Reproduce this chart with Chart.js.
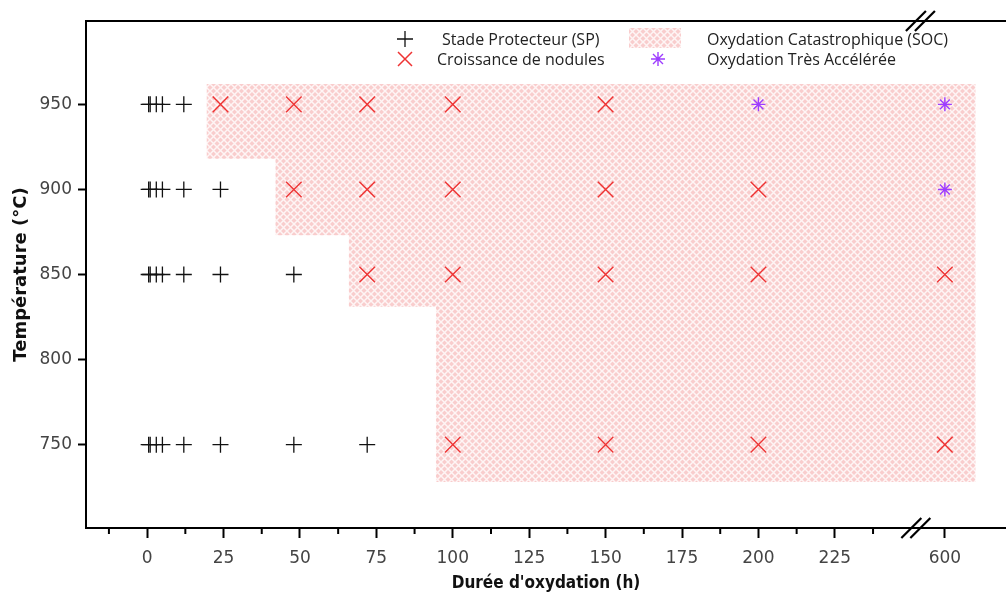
<!DOCTYPE html>
<html lang="fr">
<head>
<meta charset="utf-8">
<script src="https://cdn.jsdelivr.net/npm/chart.js@4.4.1/dist/chart.umd.min.js"></script>
<style>
  html, body { margin: 0; padding: 0; background: #fff; }
  #cadre { position: relative; width: 1006px; height: 594px; }
  #graphe { position: absolute; left: 0; top: 0; }
  .leg { position: absolute; font-family: 'Open Sans', sans-serif; font-size: 16px; color: #222; line-height: 20px; white-space: nowrap; }
  .leg svg { position: absolute; }
  #boiteSOC { position: absolute; width: 52px; height: 20px; }
</style>
</head>
<body>
<div id="cadre">
  <canvas id="graphe" width="1006" height="594"></canvas>
  <svg class="leg" style="left:396px;top:30px" width="18" height="18"><path d="M9 1V17M1 9H17" stroke="#111" stroke-width="1.3"/></svg>
  <div class="leg" style="left:442px;top:29px">Stade Protecteur (SP)</div>
  <svg class="leg" style="left:396px;top:50px" width="18" height="18"><path d="M2 2L16 16M16 2L2 16" stroke="#ee3333" stroke-width="1.5"/></svg>
  <div class="leg" style="left:437px;top:49px">Croissance de nodules</div>
  <div id="boiteSOC" style="left:629px;top:28px"></div>
  <div class="leg" style="left:707px;top:29px">Oxydation Catastrophique (SOC)</div>
  <svg class="leg" style="left:650px;top:51px" width="16" height="16"><path d="M8 1V15M1 8H15M3 3L13 13M13 3L3 13" stroke="#9d3cff" stroke-width="1.4"/></svg>
  <div class="leg" style="left:707px;top:49px">Oxydation Très Accélérée</div>
</div>
<script>
// Durées (h) par température
const sp950 = [0.5, 1, 3, 5, 12];
const sp900 = [0.5, 1, 3, 5, 12, 24];
const sp850 = [0.5, 1, 3, 5, 12, 24, 48];
const sp750 = [0.5, 1, 3, 5, 12, 24, 48, 72];
const nod950 = [24, 48, 72, 100, 150];
const nod900 = [48, 72, 100, 150, 200];
const nod850 = [72, 100, 150, 200, 600];
const nod750 = [100, 150, 200, 600];
const ota950 = [200, 600];
const ota900 = [600];

// Zones SOC : début (h), bornes en température
const socDebut = [19.5, 42, 66, 94.5];
const socHaut = [962, 918, 873, 831];
const socBas = [918, 873, 831, 728];
const socFin = 610;

const ticksX = [0, 25, 50, 75, 100, 125, 150, 175, 200, 225, 600];
const ticksY = [750, 800, 850, 900, 950];

// axe coupé entre 250 et 600 h
function xAff(v) { return v >= 600 ? 261 + (v - 600) : v; }

function points(durees, temp) {
    return durees.map(d => ({ x: xAff(d), y: temp }));
}

const ctx = document.getElementById('graphe').getContext('2d');

// motif hachuré rose
const tuile = document.createElement('canvas');
tuile.width = 7; tuile.height = 7;
const tg = tuile.getContext('2d');
tg.fillStyle = '#f9cdcd';
tg.fillRect(0, 0, 7, 7);
tg.strokeStyle = 'rgba(255,255,255,0.8)';
tg.lineWidth = 1.5;
tg.beginPath();
tg.moveTo(0, 0); tg.lineTo(7, 7);
tg.moveTo(7, 0); tg.lineTo(0, 7);
tg.stroke();
const motif = ctx.createPattern(tuile, 'repeat');
document.getElementById('boiteSOC').style.background = 'url(' + tuile.toDataURL() + ')';

const zones = socDebut.map((x0, i) => ({
    type: 'line',
    data: [
        { x: x0, y: socHaut[i] }, { x: xAff(socFin), y: socHaut[i] },
        { x: xAff(socFin), y: socBas[i] }, { x: x0, y: socBas[i] }, { x: x0, y: socHaut[i] }
    ],
    fill: 'shape',
    backgroundColor: motif,
    borderWidth: 0,
    pointRadius: 0,
    tension: 0,
    order: 10
}));

const styleSP = { pointStyle: 'cross', pointRadius: 8, borderColor: '#111', borderWidth: 1.3, order: 1 };
const styleNod = { pointStyle: 'crossRot', pointRadius: 11, borderColor: '#ee3333', borderWidth: 1.4, order: 1 };
const styleOta = { pointStyle: 'star', pointRadius: 7, borderColor: '#9d3cff', borderWidth: 1.4, order: 1 };

const decor = {
    id: 'decor',
    afterDraw(chart) {
        const c = chart.ctx, a = chart.chartArea, sx = chart.scales.x;
        c.save();
        c.strokeStyle = '#000';
        c.lineWidth = 2;
        // bord haut
        c.beginPath(); c.moveTo(a.left, a.top); c.lineTo(a.right, a.top); c.stroke();
        // petites graduations
        for (let v = -12.5; v < 250; v += 25) {
            const px = sx.getPixelForValue(v);
            c.beginPath(); c.moveTo(px, a.bottom); c.lineTo(px, a.bottom + 6); c.stroke();
        }
        // marques de coupure
        c.lineWidth = 2.2;
        [[a.top, 253], [a.bottom, 251.5]].forEach(([y, v]) => {
            const xb = sx.getPixelForValue(v);
            [-4.5, 4.5].forEach(dx => {
                c.beginPath();
                c.moveTo(xb + dx - 10, y + 10);
                c.lineTo(xb + dx + 10, y - 10);
                c.stroke();
            });
        });
        c.restore();
    }
};

new Chart(ctx, {
    type: 'scatter',
    data: {
        datasets: [
            ...zones,
            { data: points(sp950, 950), ...styleSP },
            { data: points(sp900, 900), ...styleSP },
            { data: points(sp850, 850), ...styleSP },
            { data: points(sp750, 750), ...styleSP },
            { data: points(nod950, 950), ...styleNod },
            { data: points(nod900, 900), ...styleNod },
            { data: points(nod850, 850), ...styleNod },
            { data: points(nod750, 750), ...styleNod },
            { data: points(ota950, 950), ...styleOta },
            { data: points(ota900, 900), ...styleOta }
        ]
    },
    options: {
        responsive: false,
        animation: false,
        events: [],
        layout: { autoPadding: false, padding: { top: 21, right: 0, left: 0, bottom: 0 } },
        plugins: { legend: { display: false }, tooltip: { enabled: false } },
        scales: {
            x: {
                type: 'linear',
                min: -20,
                max: 281,
                afterBuildTicks: s => { s.ticks = ticksX.map(v => ({ value: xAff(v) })); },
                afterFit: s => { s.height = 66; s.paddingLeft = 0; s.paddingRight = 0; },
                ticks: {
                    callback: v => (v === xAff(600) ? '600' : String(v)),
                    font: { family: 'DejaVu Sans', size: 17 },
                    color: '#444',
                    padding: 10,
                    maxRotation: 0,
                    autoSkip: false
                },
                grid: { drawOnChartArea: false, tickLength: 10, tickWidth: 2, tickColor: '#000' },
                border: { color: '#000', width: 2 },
                title: {
                    display: true,
                    text: "Durée d'oxydation (h)",
                    font: { family: "'DejaVu Sans Condensed', 'Liberation Sans Narrow', sans-serif", size: 17, weight: 'bold' },
                    color: '#111',
                    padding: { top: 0, bottom: 0 }
                }
            },
            y: {
                min: 701,
                max: 999,
                afterBuildTicks: s => { s.ticks = ticksY.map(v => ({ value: v })); },
                afterFit: s => { s.width = 86; s.paddingTop = 0; s.paddingBottom = 0; },
                ticks: {
                    font: { family: 'DejaVu Sans', size: 17 },
                    color: '#444',
                    padding: 6
                },
                grid: { drawOnChartArea: false, tickLength: 8, tickWidth: 2, tickColor: '#000' },
                border: { color: '#000', width: 2 },
                title: {
                    display: true,
                    text: 'Température (°C)',
                    font: { family: 'DejaVu Sans', size: 18, weight: 'bold' },
                    color: '#111',
                    padding: { top: 11, bottom: 0 }
                }
            }
        }
    },
    plugins: [decor]
});
</script>
</body>
</html>
